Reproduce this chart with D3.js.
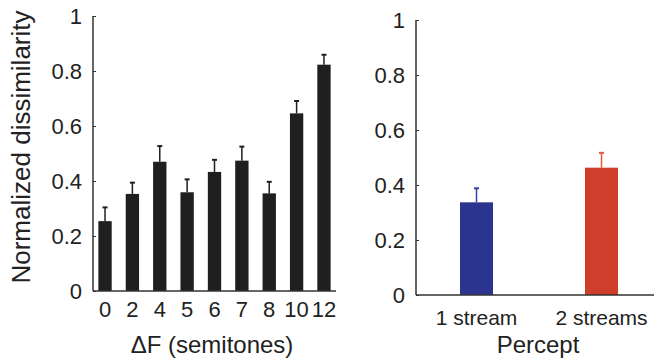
<!DOCTYPE html>
<html>
<head>
<meta charset="utf-8">
<script src="https://cdn.jsdelivr.net/npm/d3@7"></script>
<style>
  html, body { margin: 0; padding: 0; background: #fff; }
  svg { display: block; }
  text { font-family: "Liberation Sans", Arial, sans-serif; fill: #222; }
</style>
</head>
<body>
<svg id="chart" width="654" height="364"></svg>
<script>
// ---- Data ----
const semitones = ["0", "2", "4", "5", "6", "7", "8", "10", "12"];
const dissimilarity = [0.254, 0.353, 0.470, 0.359, 0.433, 0.474, 0.355, 0.646, 0.823];
const dissimilarityErr = [0.050, 0.041, 0.057, 0.047, 0.044, 0.051, 0.042, 0.045, 0.036];
const percepts = ["1 stream", "2 streams"];
const perceptValues = [0.337, 0.463];
const perceptErr = [0.051, 0.054];
const perceptColors = ["#2b358f", "#cf3d2b"];
const perceptErrColors = ["#3340a8", "#e0593f"];
const yTicks = [0, 0.2, 0.4, 0.6, 0.8, 1];

const svg = d3.select("#chart");
const fmt = d3.format("~g");
const axisColor = "#333";

function panel(opts) {
  const g = svg.append("g");
  const x = d3.scaleBand().domain(opts.cats).range(opts.xRange)
    .paddingInner(opts.pi).paddingOuter(opts.po);
  const y = d3.scaleLinear().domain([0, 1]).range(opts.yRange);

  // bars
  g.selectAll("rect.bar").data(opts.vals).join("rect")
    .attr("class", "bar")
    .attr("x", (d, i) => x(opts.cats[i]))
    .attr("width", x.bandwidth())
    .attr("y", d => y(d))
    .attr("height", d => y(0) - y(d))
    .attr("fill", (d, i) => opts.colors[i]);

  // error bars
  const eg = g.selectAll("g.err").data(opts.vals).join("g").attr("class", "err");
  eg.append("line")
    .attr("x1", (d, i) => x(opts.cats[i]) + x.bandwidth() / 2)
    .attr("x2", (d, i) => x(opts.cats[i]) + x.bandwidth() / 2)
    .attr("y1", d => y(d))
    .attr("y2", (d, i) => y(d + opts.errs[i]))
    .attr("stroke", (d, i) => opts.errColors[i])
    .attr("stroke-width", 1.5);
  eg.append("line")
    .attr("x1", (d, i) => x(opts.cats[i]) + x.bandwidth() / 2 - 2.5)
    .attr("x2", (d, i) => x(opts.cats[i]) + x.bandwidth() / 2 + 2.5)
    .attr("y1", (d, i) => y(d + opts.errs[i]))
    .attr("y2", (d, i) => y(d + opts.errs[i]))
    .attr("stroke", (d, i) => opts.errColors[i])
    .attr("stroke-width", 2);

  // y axis
  const ya = g.append("g")
    .attr("transform", `translate(${opts.xRange[0]},0)`)
    .call(d3.axisLeft(y).tickValues(yTicks).tickFormat(fmt).tickSize(-3).tickPadding(11));
  ya.select(".domain").attr("stroke", axisColor).attr("stroke-width", 1.5)
    .attr("d", `M0,${y(1)}V${y(0)}`);
  ya.selectAll(".tick line").attr("stroke", axisColor).attr("stroke-width", 1);
  ya.selectAll(".tick text").attr("font-size", opts.yFont).attr("fill", "#222")
    .attr("font-family", "Liberation Sans, Arial, sans-serif");

  // x axis
  const xa = g.append("g")
    .attr("transform", `translate(0,${y(0)})`)
    .call(d3.axisBottom(x).tickSize(0).tickPadding(opts.xPad));
  xa.select(".domain").attr("stroke", axisColor).attr("stroke-width", 1.5)
    .attr("d", `M${opts.xRange[0]},0H${opts.xAxisEnd}`);
  xa.selectAll(".tick text").attr("font-size", opts.xFont).attr("fill", "#222")
    .attr("font-family", "Liberation Sans, Arial, sans-serif");

  // x title
  g.append("text")
    .attr("x", opts.xTitlePos[0]).attr("y", opts.xTitlePos[1])
    .attr("text-anchor", "middle").attr("font-size", 24)
    .text(opts.xTitle);
  return g;
}

panel({
  cats: semitones, vals: dissimilarity, errs: dissimilarityErr,
  colors: semitones.map(() => "#1f1f1f"), errColors: semitones.map(() => "#1f1f1f"),
  xRange: [93, 336], xAxisEnd: 336, yRange: [291, 16], pi: 0.513, po: 0.196,
  yFont: 22, xFont: 22, xPad: 10, xTitle: "\u0394F (semitones)", xTitlePos: [212, 353]
});

panel({
  cats: percepts, vals: perceptValues, errs: perceptErr,
  colors: perceptColors, errColors: perceptErrColors,
  xRange: [416, 662], xAxisEnd: 662, yRange: [295, 20], pi: 0.736, po: 0.352,
  yFont: 22, xFont: 21, xPad: 15, xTitle: "Percept", xTitlePos: [538, 353]
});

// left y title
svg.append("text")
  .attr("transform", "translate(30,147) rotate(-90)")
  .attr("text-anchor", "middle").attr("font-size", 26)
  .text("Normalized dissimilarity");
</script>
</body>
</html>
